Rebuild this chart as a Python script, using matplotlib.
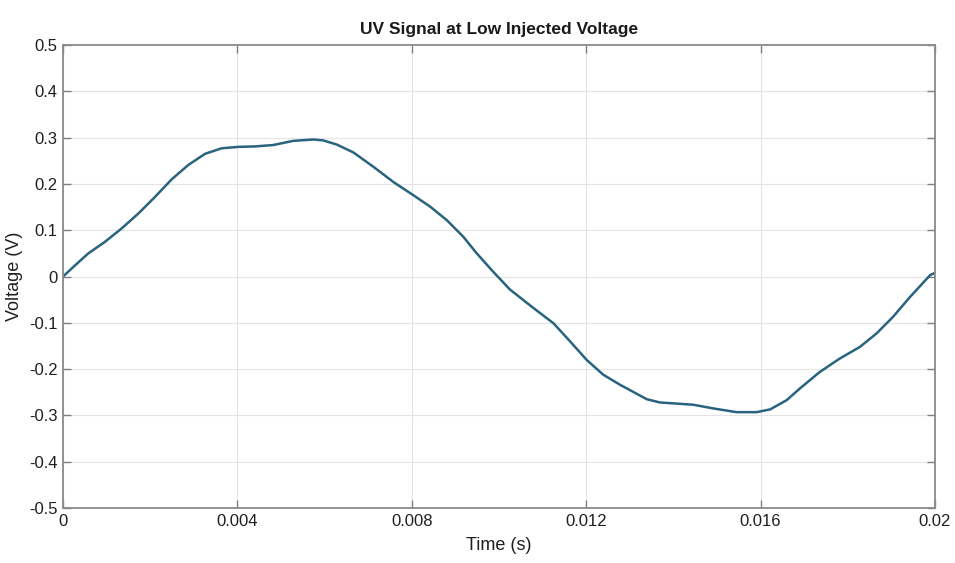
import matplotlib.pyplot as plt
import numpy as np

# UV sensor output over one 20 ms cycle
time_s = [0.0, 0.000275, 0.00058, 0.000963, 0.001346, 0.001727, 0.00211,
          0.002493, 0.002874, 0.003257, 0.00364, 0.00402, 0.0044, 0.00482,
          0.00528, 0.00574, 0.00597, 0.00628, 0.00666, 0.00712, 0.00758,
          0.00803, 0.00842, 0.0088, 0.00918, 0.00949, 0.00987, 0.01025,
          0.01079, 0.01125, 0.01163, 0.01201, 0.01239, 0.01278, 0.01339,
          0.01369, 0.01446, 0.01492, 0.01545, 0.01591, 0.01622, 0.0166,
          0.0169, 0.01736, 0.01782, 0.01828, 0.01866, 0.01904, 0.01943,
          0.01989, 0.02]
voltage_v = [0.0, 0.024, 0.05, 0.075, 0.104, 0.136, 0.172,
             0.21, 0.241, 0.265, 0.277, 0.280, 0.281, 0.284,
             0.293, 0.296, 0.294, 0.285, 0.268, 0.237, 0.204,
             0.176, 0.151, 0.122, 0.086, 0.05, 0.01, -0.028,
             -0.068, -0.101, -0.14, -0.18, -0.212, -0.234, -0.265,
             -0.272, -0.277, -0.285, -0.293, -0.293, -0.287, -0.267,
             -0.242, -0.206, -0.177, -0.152, -0.123, -0.087, -0.044,
             0.003, 0.008]

x_ticks = [0, 0.004, 0.008, 0.012, 0.016, 0.02]
x_tick_labels = ['0', '0.004', '0.008', '0.012', '0.016', '0.02']
y_ticks = np.round(np.arange(-0.5, 0.51, 0.1), 1)
y_tick_labels = ['-0.5', '-0.4', '-0.3', '-0.2', '-0.1', '0',
                 '0.1', '0.2', '0.3', '0.4', '0.5']

plt.rcParams['font.family'] = ['Liberation Sans', 'DejaVu Sans']

fig = plt.figure(figsize=(9.55, 5.63), dpi=100)
ax = fig.add_axes([0.066, 0.0977, 0.913, 0.8223])

ax.plot(time_s, voltage_v, color='#28637f', linewidth=1.8,
        solid_joinstyle='round', solid_capstyle='round')

ax.set_xlim(0, 0.02)
ax.set_ylim(-0.5, 0.5)
ax.set_xticks(x_ticks)
ax.set_xticklabels(x_tick_labels)
ax.set_yticks(y_ticks)
ax.set_yticklabels(y_tick_labels)

# matlab-style box: inward ticks on all four sides, light grid
ax.tick_params(direction='in', length=6, width=1, color='#808080',
               labelsize=12, labelcolor='#1f1f1f',
               top=True, right=True, pad=4)
ax.grid(True, color='#e4e4e4', linewidth=0.8)
for side in ax.spines.values():
    side.set_color('#8a8a8a')
    side.set_linewidth(1.3)

ax.set_title('UV Signal at Low Injected Voltage', fontsize=12.5,
             fontweight='bold', color='#1a1a1a', pad=8)
ax.set_xlabel('Time (s)', fontsize=13, color='#1f1f1f', labelpad=6)
ax.set_ylabel('Voltage (V)', fontsize=13, color='#1f1f1f', labelpad=4)

fig.savefig('out.png', dpi=100)
